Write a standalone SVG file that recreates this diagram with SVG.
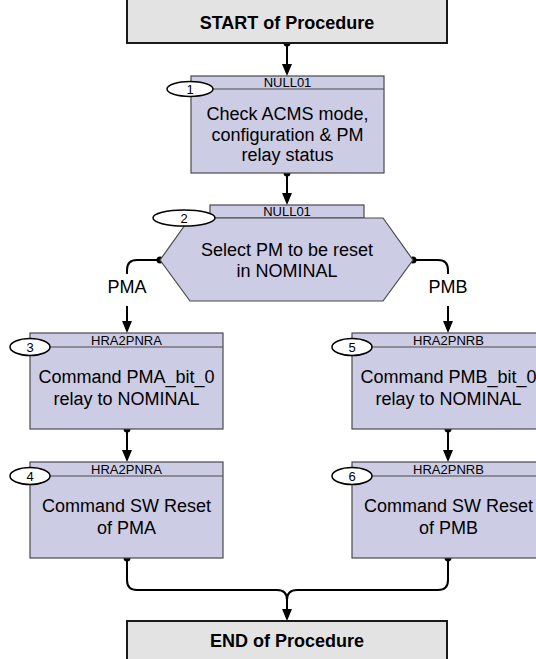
<svg xmlns="http://www.w3.org/2000/svg" width="536" height="659" viewBox="0 0 536 659">
<style>
  text { font-family: "Liberation Sans", Arial, sans-serif; fill: #000; text-anchor: middle; }
  .term { fill: #E3E3E3; stroke: #1a1a1a; stroke-width: 2; }
  .box { fill: #CCCCE5; stroke: #4a4a4a; stroke-width: 1.2; }
  .hdr { fill: none; stroke: #4a4a4a; stroke-width: 1.2; }
  .oval { fill: #fff; stroke: #000; stroke-width: 1.5; }
  .title { font-size: 18px; font-weight: bold; }
  .main { font-size: 18px; }
  .head { font-size: 13px; }
  .num { font-size: 13px; }
  .lbl { font-size: 18px; }
  .conn { fill: none; stroke: #000; stroke-width: 2; }
  .dot { fill: #000; }
</style>
<defs>
  <marker id="arr" markerUnits="userSpaceOnUse" viewBox="0 0 12 10" refX="10" refY="5" markerWidth="12" markerHeight="10" orient="auto">
    <path d="M0,0 L12,5 L0,10 Z" fill="#000"/>
  </marker>
</defs>

<g id="connectors">
  <path class="conn" d="M287,43 V74" marker-end="url(#arr)"/>
  <path class="conn" d="M287,173 V203" marker-end="url(#arr)"/>
  <path class="conn" d="M160,260 H137 Q127,260 127,270 V274"/>
  <path class="conn" d="M127,306 V331" marker-end="url(#arr)"/>
  <path class="conn" d="M413,260 H438 Q448,260 448,270 V274"/>
  <path class="conn" d="M448,306 V331" marker-end="url(#arr)"/>
  <path class="conn" d="M127,429 V460" marker-end="url(#arr)"/>
  <path class="conn" d="M448,429 V460" marker-end="url(#arr)"/>
  <path class="conn" d="M127,558 V580 Q127,590 137,590 H277 Q287,590 287,600 V619" marker-end="url(#arr)"/>
  <path class="conn" d="M448,558 V580 Q448,590 438,590 H297 Q287,590 287,600"/>
  <circle class="dot" cx="287" cy="43" r="3.5"/>
  <circle class="dot" cx="287" cy="173" r="3.5"/>
  <circle class="dot" cx="160" cy="260" r="3.5"/>
  <circle class="dot" cx="413" cy="260" r="3.5"/>
  <circle class="dot" cx="127" cy="429" r="3.5"/>
  <circle class="dot" cx="448" cy="429" r="3.5"/>
  <path class="dot" d="M123.5,558 A3.5,3.5 0 0 0 130.5,558 Z"/>
  <path class="dot" d="M444.5,558 A3.5,3.5 0 0 0 451.5,558 Z"/>
  <text class="lbl" x="127" y="293">PMA</text>
  <text class="lbl" x="448" y="293">PMB</text>
</g>

<g id="start">
  <rect class="term" x="127" y="-2" width="320" height="45"/>
  <text class="title" x="287" y="29">START of Procedure</text>
</g>

<g id="step1">
  <rect class="box" x="191" y="76" width="193" height="97"/>
  <line class="hdr" x1="191" y1="89" x2="384" y2="89"/>
  <text class="head" x="287.5" y="87">NULL01</text>
  <ellipse class="oval" cx="190" cy="89" rx="23" ry="7.5"/>
  <text class="num" x="190" y="93.5">1</text>
  <text class="main" x="287.5" y="120">Check ACMS mode,</text>
  <text class="main" x="287.5" y="141">configuration &amp; PM</text>
  <text class="main" x="287.5" y="161">relay status</text>
</g>

<g id="step2">
  <rect class="box" x="210" y="205" width="154" height="13"/>
  <text class="head" x="287" y="216">NULL01</text>
  <polygon class="box" points="160,260 190,218 383,218 413,260 383,301 190,301"/>
  <ellipse class="oval" cx="184" cy="218" rx="31" ry="8"/>
  <text class="num" x="184" y="222.5">2</text>
  <text class="main" x="287" y="256">Select PM to be reset</text>
  <text class="main" x="287" y="277">in NOMINAL</text>
</g>

<g id="step3">
  <rect class="box" x="30" y="333" width="193" height="96"/>
  <line class="hdr" x1="30" y1="347" x2="223" y2="347"/>
  <text class="head" x="126.5" y="345">HRA2PNRA</text>
  <ellipse class="oval" cx="30" cy="347" rx="20" ry="8.5"/>
  <text class="num" x="30" y="351.5">3</text>
  <text class="main" x="126.5" y="383">Command PMA_bit_0</text>
  <text class="main" x="126.5" y="405">relay to NOMINAL</text>
</g>

<g id="step4">
  <rect class="box" x="30" y="462" width="193" height="96"/>
  <line class="hdr" x1="30" y1="476" x2="223" y2="476"/>
  <text class="head" x="126.5" y="474">HRA2PNRA</text>
  <ellipse class="oval" cx="30" cy="476" rx="20" ry="8.5"/>
  <text class="num" x="30" y="480.5">4</text>
  <text class="main" x="126.5" y="512">Command SW Reset</text>
  <text class="main" x="126.5" y="534">of PMA</text>
</g>

<g id="step5">
  <rect class="box" x="352" y="333" width="193" height="96"/>
  <line class="hdr" x1="352" y1="347" x2="545" y2="347"/>
  <text class="head" x="448.5" y="345">HRA2PNRB</text>
  <ellipse class="oval" cx="352" cy="347" rx="20" ry="8.5"/>
  <text class="num" x="352" y="351.5">5</text>
  <text class="main" x="448.5" y="383">Command PMB_bit_0</text>
  <text class="main" x="448.5" y="405">relay to NOMINAL</text>
</g>

<g id="step6">
  <rect class="box" x="352" y="462" width="193" height="96"/>
  <line class="hdr" x1="352" y1="476" x2="545" y2="476"/>
  <text class="head" x="448.5" y="474">HRA2PNRB</text>
  <ellipse class="oval" cx="352" cy="476" rx="20" ry="8.5"/>
  <text class="num" x="352" y="480.5">6</text>
  <text class="main" x="448.5" y="512">Command SW Reset</text>
  <text class="main" x="448.5" y="534">of PMB</text>
</g>

<g id="end">
  <rect class="term" x="127" y="621" width="320" height="45"/>
  <text class="title" x="287" y="647">END of Procedure</text>
</g>
</svg>
